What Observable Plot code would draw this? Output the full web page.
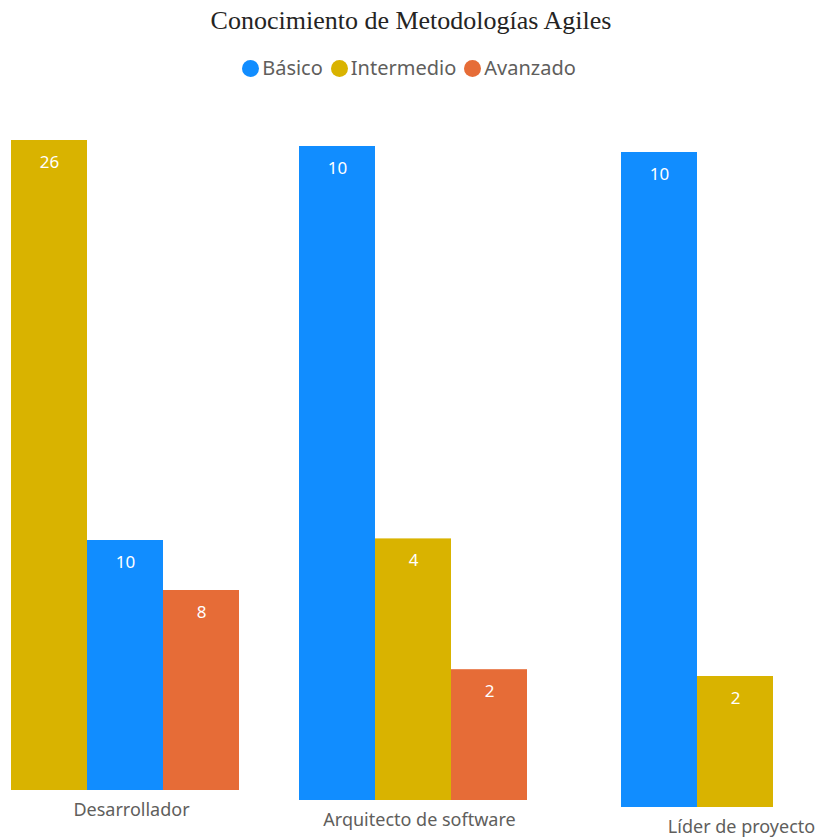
<!DOCTYPE html>
<html>
<head>
<meta charset="utf-8">
<script src="https://cdn.jsdelivr.net/npm/d3@7"></script>
<script src="https://cdn.jsdelivr.net/npm/@observablehq/plot@0.6"></script>
<style>
  html, body { margin: 0; padding: 0; background: #fff; overflow: hidden; width: 818px; height: 838px; }
  #title { position: absolute; left: 0; width: 818px; top: 4px; text-align: center; padding-left: 2px;
           font-family: "Liberation Serif", "Times New Roman", serif; font-size: 26px; color: #252423; line-height: 34px; }
  #legend { position: absolute; left: 0; width: 818px; top: 55px; display: flex; justify-content: center; padding-left: 0px;
            font-family: "Noto Sans", "Segoe UI", sans-serif; font-size: 20px; color: #605E5C; line-height: 26px; }
  .item { display: flex; align-items: center; margin: 0 4px; }
  .dot { width: 17px; height: 17px; border-radius: 50%; margin-right: 3px; }
  .plot { position: absolute; }
</style>
</head>
<body>
<div id="title">Conocimiento de Metodologías Agiles</div>
<div id="legend"></div>
<div id="charts"></div>
<script>
// Data
const groups = ["Desarrollador", "Arquitecto de software", "Líder de proyecto"];
const levels = ["Básico", "Intermedio", "Avanzado"];
const basico = [10, 10, 10];
const intermedio = [26, 4, 2];
const avanzado = [8, 2, null];

// Styles / layout
const colors = ["#118DFF", "#D9B300", "#E66C37"];
const panelLeft = [10, 298, 620];
const panelTop = [140, 146, 152];
const panelBase = [790, 800, 807];
const panelWidth = 230;
const labelColor = "#605E5C";
const font = "'Noto Sans', 'Segoe UI', sans-serif";

// Legend
const legend = document.getElementById("legend");
levels.forEach((l, j) => {
  const it = document.createElement("div");
  it.className = "item";
  it.innerHTML = `<span class="dot" style="background:${colors[j]}"></span><span>${l}</span>`;
  legend.appendChild(it);
});

const series = [basico, intermedio, avanzado];
const charts = document.getElementById("charts");
groups.forEach((g, i) => {
  const rows = levels.map((l, j) => ({level: l, value: series[j][i]}))
    .sort((a, b) => (b.value ?? -1) - (a.value ?? -1));
  const domain = rows.map(d => d.level);
  const data = rows.filter(d => d.value != null);
  const max = d3.max(data, d => d.value);
  const h = panelBase[i] - panelTop[i];
  const svg = Plot.plot({
    width: panelWidth,
    height: h + 40,
    marginTop: 0, marginBottom: 40, marginLeft: 0, marginRight: 0,
    style: {fontFamily: font, overflow: "visible"},
    x: {domain, padding: 0, axis: null},
    y: {domain: [0, max], axis: null},
    color: {domain: levels, range: colors},
    marks: [
      Plot.barY(data, {x: "level", y: "value", fill: "level"}),
      Plot.text(data, {x: "level", y: "value", text: d => String(d.value), fill: "white", dy: 22, fontSize: 17}),
      Plot.text([g], {frameAnchor: "bottom", text: d => d, dy: 25, dx: 6, fill: labelColor, fontSize: 18})
    ]
  });
  svg.classList.add("plot");
  svg.style.left = panelLeft[i] + "px";
  svg.style.top = panelTop[i] + "px";
  charts.appendChild(svg);
});
</script>
</body>
</html>
